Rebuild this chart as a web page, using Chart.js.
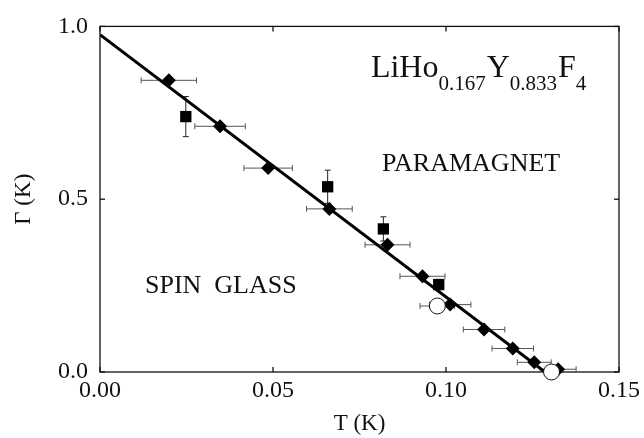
<!DOCTYPE html>
<html>
<head>
<meta charset="utf-8">
<script src="https://cdn.jsdelivr.net/npm/chart.js@4.4.1/dist/chart.umd.min.js"></script>
<style>
  body { margin: 0; background: #fff; }
  #wrap { width: 644px; height: 438px; }
</style>
</head>
<body>
<div id="wrap"><canvas id="grafico"></canvas></div>
<script>
// valores
var diamanteT = [0.0199, 0.0347, 0.0486, 0.0663, 0.0831, 0.0932, 0.1012, 0.1110, 0.1193, 0.1255, 0.1324];
var diamanteG = [0.844, 0.711, 0.590, 0.472, 0.368, 0.277, 0.195, 0.123, 0.068, 0.028, 0.008];
var diamanteErrT = [0.0080, 0.0073, 0.0070, 0.0066, 0.0065, 0.0065, 0.0060, 0.0060, 0.0060, 0.0049, 0.0052];

var cuadradoT = [0.0248, 0.0658, 0.0819, 0.0979];
var cuadradoG = [0.739, 0.536, 0.414, 0.253];
var cuadradoErrG = [0.058, 0.048, 0.035, 0.015];

var circuloT = [0.0975, 0.1305];
var circuloG = [0.191, 0.0];
var circuloErrT = [0.005, 0];

var ajusteT = [0, 0.1286];
var ajusteG = [0.976, 0];

var ticksT = [0, 0.05, 0.10, 0.15];
var ticksG = [0, 0.5, 1.0];

var fuente = "'Liberation Serif', 'DejaVu Serif', serif";

function puntos(xs, ys) {
    return xs.map(function(x, i) { return { x: x, y: ys[i] }; });
}

function linea(ctx, x1, y1, x2, y2) {
    ctx.beginPath();
    ctx.moveTo(x1, y1);
    ctx.lineTo(x2, y2);
    ctx.stroke();
}

// barras de error, debajo de los marcadores
var erroresPlugin = {
    id: 'errores',
    beforeDatasetsDraw: function(chart) {
        var ctx = chart.ctx, sx = chart.scales.x, sy = chart.scales.y;
        ctx.save();
        ctx.strokeStyle = '#555';
        ctx.lineWidth = 1;
        chart.data.datasets.forEach(function(ds) {
            ds.data.forEach(function(p, i) {
                var px = sx.getPixelForValue(p.x), py = sy.getPixelForValue(p.y);
                if (ds.errT && ds.errT[i]) {
                    var a = sx.getPixelForValue(p.x - ds.errT[i]);
                    var b = sx.getPixelForValue(p.x + ds.errT[i]);
                    linea(ctx, a, py, b, py);
                    linea(ctx, a, py - 3, a, py + 3);
                    linea(ctx, b, py - 3, b, py + 3);
                }
                if (ds.errG && ds.errG[i]) {
                    var c = sy.getPixelForValue(p.y + ds.errG[i]);
                    var d = sy.getPixelForValue(p.y - ds.errG[i]);
                    ctx.strokeStyle = '#222';
                    linea(ctx, px, c, px, d);
                    linea(ctx, px - 3, c, px + 3, c);
                    linea(ctx, px - 3, d, px + 3, d);
                    ctx.strokeStyle = '#555';
                }
            });
        });
        ctx.restore();
    }
};

// marco con ticks hacia dentro y textos
var marcoPlugin = {
    id: 'marco',
    beforeDatasetsDraw: function(chart) {
        var ctx = chart.ctx, a = chart.chartArea, sx = chart.scales.x, sy = chart.scales.y;
        ctx.save();
        ctx.strokeStyle = '#111';
        ctx.lineWidth = 1.3;
        ctx.strokeRect(a.left, a.top, a.right - a.left, a.bottom - a.top);
        ticksT.forEach(function(v) {
            var px = sx.getPixelForValue(v);
            linea(ctx, px, a.bottom, px, a.bottom - 5);
            linea(ctx, px, a.top, px, a.top + 5);
        });
        ticksG.forEach(function(v) {
            var py = sy.getPixelForValue(v);
            linea(ctx, a.left, py, a.left + 5, py);
            linea(ctx, a.right, py, a.right - 5, py);
        });

        ctx.fillStyle = '#111';
        ctx.textBaseline = 'alphabetic';
        ctx.textAlign = 'left';

        // LiHo0.167Y0.833F4
        var x = sx.getPixelForValue(0.0783), base = sy.getPixelForValue(0.855);
        var trozos = [['LiHo', 0], ['0.167', 1], ['Y', 0], ['0.833', 1], ['F', 0], ['4', 1]];
        trozos.forEach(function(t) {
            ctx.font = (t[1] ? '21px ' : '32px ') + fuente;
            ctx.fillText(t[0], x, base + (t[1] ? 13 : 0));
            x += ctx.measureText(t[0]).width + (t[1] ? 1 : 0);
        });

        ctx.font = '26px ' + fuente;
        ctx.fillText('PARAMAGNET', sx.getPixelForValue(0.0815), sy.getPixelForValue(0.582));
        ctx.fillText('SPIN  GLASS', sx.getPixelForValue(0.013), sy.getPixelForValue(0.228));
        ctx.restore();
    }
};

new Chart(document.getElementById('grafico'), {
    type: 'scatter',
    data: {
        datasets: [{
            label: 'circulos',
            data: puntos(circuloT, circuloG),
            errT: circuloErrT,
            pointStyle: 'circle',
            pointRadius: 8,
            backgroundColor: '#fff',
            borderColor: '#111',
            borderWidth: 1,
            clip: false
        }, {
            label: 'diamantes',
            data: puntos(diamanteT, diamanteG),
            errT: diamanteErrT,
            pointStyle: 'rectRot',
            pointRadius: 7,
            backgroundColor: '#000',
            borderColor: '#000',
            borderWidth: 0,
            clip: false
        }, {
            label: 'cuadrados',
            data: puntos(cuadradoT, cuadradoG),
            errG: cuadradoErrG,
            pointStyle: 'rect',
            pointRadius: 8,
            backgroundColor: '#000',
            borderColor: '#000',
            borderWidth: 0,
            clip: false
        }, {
            type: 'line',
            label: 'ajuste',
            data: puntos(ajusteT, ajusteG),
            showLine: true,
            pointRadius: 0,
            borderColor: '#000',
            borderWidth: 3
        }]
    },
    options: {
        responsive: true,
        maintainAspectRatio: false,
        animation: false,
        layout: { padding: { top: 12, right: 24, left: 0, bottom: 0 } },
        plugins: {
            legend: { display: false },
            tooltip: { enabled: false }
        },
        scales: {
            x: {
                type: 'linear',
                min: 0,
                max: 0.15,
                afterFit: function(s) { s.height = 66; },
                afterBuildTicks: function(s) { s.ticks = ticksT.map(function(v) { return { value: v }; }); },
                grid: { display: false, drawTicks: false },
                border: { display: false },
                ticks: {
                    padding: 4,
                    color: '#111',
                    font: { family: fuente, size: 24 },
                    callback: function(v) { return v.toFixed(2); }
                },
                title: {
                    display: true,
                    text: 'T (K)',
                    color: '#111',
                    font: { family: fuente, size: 23 },
                    padding: { top: 0, bottom: 0 }
                }
            },
            y: {
                type: 'linear',
                min: 0,
                max: 1,
                afterFit: function(s) { s.width = 100; },
                afterBuildTicks: function(s) { s.ticks = ticksG.map(function(v) { return { value: v }; }); },
                grid: { display: false, drawTicks: false },
                border: { display: false },
                ticks: {
                    padding: 12,
                    color: '#111',
                    font: { family: fuente, size: 24 },
                    callback: function(v) { return v.toFixed(1); }
                },
                title: {
                    display: true,
                    text: 'Γ (K)',
                    color: '#111',
                    font: { family: fuente, size: 23 },
                    padding: { top: 10, bottom: 0 }
                }
            }
        }
    },
    plugins: [marcoPlugin, erroresPlugin]
});
</script>
</body>
</html>
